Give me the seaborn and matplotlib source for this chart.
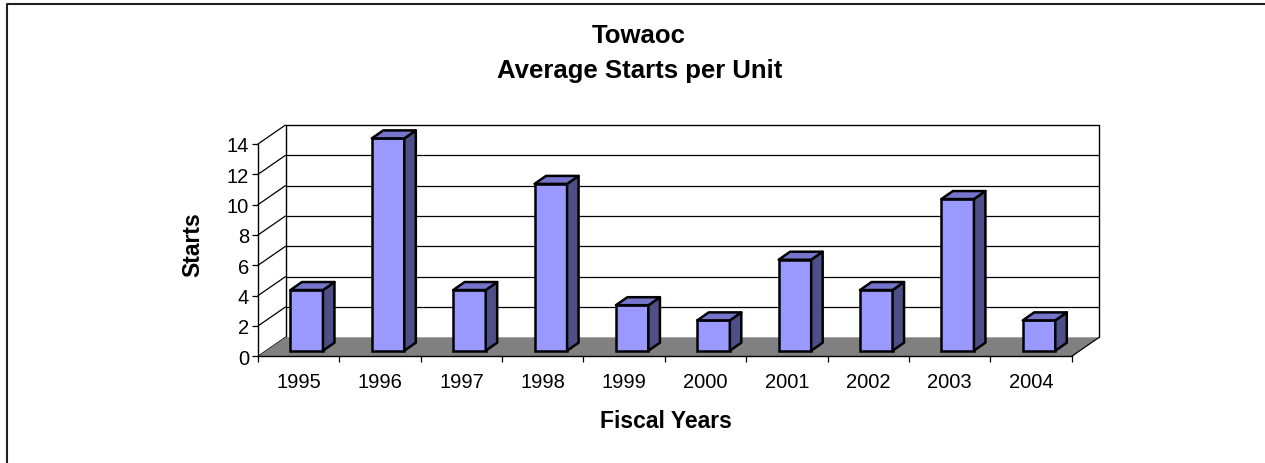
import matplotlib
matplotlib.use("Agg")
import matplotlib.pyplot as plt
from matplotlib.patches import Polygon
from matplotlib.lines import Line2D
import seaborn as sns
import pandas as pd

# ---- data ----
years = ["1995", "1996", "1997", "1998", "1999", "2000", "2001", "2002", "2003", "2004"]
starts = [4, 14, 4, 11, 3, 2, 6, 4, 10, 2]
y_ticks = [0, 2, 4, 6, 8, 10, 12, 14]
title_line1 = "Towaoc"
title_line2 = "Average Starts per Unit"
x_title = "Fiscal Years"
y_title = "Starts"

sns.set_style("white")
plt.rcParams["font.family"] = ["Liberation Sans", "DejaVu Sans"]
plt.rcParams["text.color"] = "black"
plt.rcParams["xtick.color"] = "black"
plt.rcParams["ytick.color"] = "black"
plt.rcParams["xtick.labelcolor"] = "black"
plt.rcParams["ytick.labelcolor"] = "black"

W, H = 1265, 464
fig = plt.figure(figsize=(W / 100, H / 100), dpi=100)

# front plane of the 3D box, in pixels
left_px, right_px = 258.0, 1071.7
zero_px, top_px = 357.3, 145.0
ax = fig.add_axes([left_px / W, (H - zero_px) / H,
                   (right_px - left_px) / W, (zero_px - top_px) / H])
ax.set_xlim(-0.5, len(years) - 0.5)
ax.set_ylim(0, max(y_ticks))
ax.patch.set_alpha(0)

sx = (len(years)) / (right_px - left_px)      # data units per px (x)
sy = max(y_ticks) / (zero_px - top_px)        # data units per px (y)

WX, WY = 27.5 * sx, 19.0 * sy   # wall depth
BX, BY = 8.0 * sx, 5.6 * sy     # bar front offset
DX, DY = 11.5 * sx, 8.0 * sy    # bar depth

x0, x1 = -0.5, len(years) - 0.5
ymax = max(y_ticks)

# back wall gridlines and border
for yv in y_ticks[1:-1]:
    ax.add_line(Line2D([x0 + WX, x1 + WX], [yv + WY, yv + WY], color="black",
                       lw=0.9, clip_on=False, zorder=1))
ax.add_line(Line2D([x0 + WX, x0 + WX, x1 + WX, x1 + WX],
                   [WY, ymax + WY, ymax + WY, WY], color="black", lw=1.0,
                   clip_on=False, zorder=1))
# left side wall diagonals
for yv in y_ticks:
    ax.add_line(Line2D([x0, x0 + WX], [yv, yv + WY], color="black", lw=0.9,
                       clip_on=False, zorder=1))

# floor
floor = Polygon([(x0, 0), (x1, 0), (x1 + WX, WY), (x0 + WX, WY)], closed=True,
                facecolor="#808080", edgecolor="none", clip_on=False, zorder=2)
ax.add_patch(floor)
ax.add_line(Line2D([x1, x1 + WX], [0, WY], color="black", lw=0.9,
                   clip_on=False, zorder=2.2))

# bars
df = pd.DataFrame({"year": years, "starts": starts})
sns.barplot(data=df, x="year", y="starts", color="#9999FF", saturation=1,
            width=0.40, edgecolor="black", linewidth=1.8, ax=ax)
for p in list(ax.patches):
    if isinstance(p, Polygon):
        continue
    bx0 = p.get_x() + BX
    h = p.get_height()
    bw = p.get_width()
    p.set_x(bx0)
    p.set_y(BY)
    p.set_zorder(3)
    p.set_clip_on(False)
    bx1 = bx0 + bw
    side = Polygon([(bx1, BY), (bx1, h + BY), (bx1 + DX, h + BY + DY), (bx1 + DX, BY + DY)],
                   closed=True, facecolor="#4F4F88", edgecolor="black", lw=1.8,
                   joinstyle="round", clip_on=False, zorder=3)
    top = Polygon([(bx0, h + BY), (bx1, h + BY), (bx1 + DX, h + BY + DY), (bx0 + DX, h + BY + DY)],
                  closed=True, facecolor="#7575CC", edgecolor="black", lw=1.8,
                  joinstyle="round", clip_on=False, zorder=3)
    ax.add_patch(side)
    ax.add_patch(top)

# axes / ticks
for s in ["top", "right"]:
    ax.spines[s].set_visible(False)
for s in ["left", "bottom"]:
    ax.spines[s].set_color("black")
    ax.spines[s].set_linewidth(1.0)
    ax.spines[s].set_zorder(2.5)
ax.set_yticks(y_ticks)
ax.set_yticklabels([str(v) for v in y_ticks])
ax.tick_params(axis="y", direction="out", length=4.5, width=0.9, color="black",
               labelcolor="black", labelsize=14.5, pad=2, left=True)
ax.set_xticks(range(len(years)))
ax.set_xticklabels(years)
ax.set_xticks([i - 0.5 for i in range(len(years) + 1)], minor=True)
ax.tick_params(axis="x", which="major", length=0, labelsize=14.5, pad=11,
               labelcolor="black")
ax.tick_params(axis="x", which="minor", direction="out", length=4, width=0.9,
               color="black", bottom=True)
ax.set_xlabel("")
ax.set_ylabel("")

# titles
fig.text(639 / W, 1 - 43.3 / H, title_line1, ha="center", va="baseline",
         fontsize=18.5, fontweight="bold", color="black")
fig.text(640 / W, 1 - 78.3 / H, title_line2, ha="center", va="baseline",
         fontsize=18.5, fontweight="bold", color="black")
fig.text(666 / W, 1 - 428.3 / H, x_title, ha="center", va="baseline",
         fontsize=16.5, fontweight="bold", color="black")
fig.text(193 / W, 1 - 245 / H, y_title, ha="center", va="center", rotation=90,
         fontsize=16.5, fontweight="bold", color="black")

# chart border (top and left visible)
fig.add_artist(Line2D([6.5 / W, 6.5 / W, 1.0], [0.0, 1 - 4.5 / H, 1 - 4.5 / H],
                      transform=fig.transFigure, color="#202020", lw=1.5))

fig.savefig("out.png", dpi=100)
